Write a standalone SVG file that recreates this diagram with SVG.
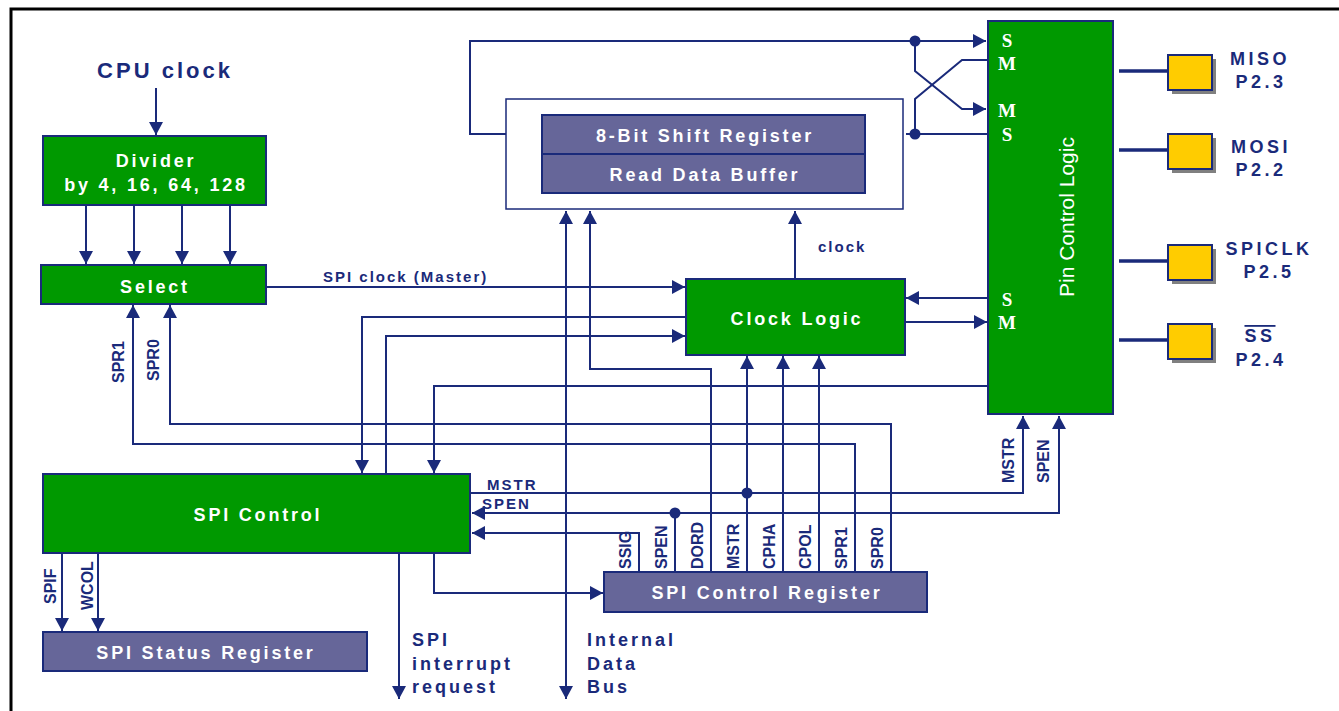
<svg xmlns="http://www.w3.org/2000/svg" width="1339" height="711" viewBox="0 0 1339 711">
<style>
.bg{fill:#ffffff}
.frame{fill:none;stroke:#000;stroke-width:3}
.g{fill:#009900;stroke:#1a2a7a;stroke-width:2}
.p{fill:#666699;stroke:#1a2a7a;stroke-width:2}
.ob{fill:#ffffff;stroke:#1a2a7a;stroke-width:1.5}
.y{fill:#ffcc00;stroke:#1a2a7a;stroke-width:2}
.sh{fill:#808080}
.w{font-family:"Liberation Sans",Arial,sans-serif;font-weight:bold;font-size:18px;fill:#ffffff;letter-spacing:2.8px;text-anchor:middle}
.n{font-family:"Liberation Sans",Arial,sans-serif;font-weight:bold;fill:#1a2a7a}
.lbl{font-size:15px;letter-spacing:2px}
.v{font-size:16px}
.big{font-size:18px;letter-spacing:3px}
.pin{font-size:18px;letter-spacing:3.5px;text-anchor:middle}
.sm{font-family:"Liberation Serif","Times New Roman",serif;font-weight:bold;font-size:19px;fill:#ffffff;text-anchor:middle}
.c{fill:none;stroke:#1a2a7a;stroke-width:2}
.a{marker-end:url(#ah)}
.d{stroke-dasharray:9 6}
.thick{fill:none;stroke:#1a2a7a;stroke-width:3.5}
.dot{fill:#1a2a7a}
</style>
<defs>
<marker id="ah" viewBox="0 0 13 14" refX="13" refY="7" markerWidth="13" markerHeight="14" markerUnits="userSpaceOnUse" orient="auto-start-reverse">
<path d="M0,0 L13,7 L0,14 z" fill="#1a2a7a"/>
</marker>
</defs>
<rect class="bg" x="0" y="0" width="1339" height="711"/>
<rect class="frame" x="11" y="9" width="1400" height="800"/>

<text class="n" x="165" y="78" font-size="22" letter-spacing="3" text-anchor="middle">CPU clock</text>

<g id="connectors">
<path class="c a" d="M156,88 V135"/>
<path class="c a" d="M86,206 V264"/>
<path class="c a" d="M134,206 V264"/>
<path class="c a" d="M182,206 V264"/>
<path class="c a" d="M230,206 V264"/>
<path class="c a" d="M267,287 H685"/>
<path class="c a" d="M855,572 V444 H133 V305"/>
<path class="c a" d="M891,572 V424 H170 V305"/>
<path class="c a" d="M686,317 H362 V473"/>
<path class="c a" d="M386,474 V336 H685"/>
<path class="c a" d="M988,386 H434 V473"/>
<path class="c a" d="M711,572 V369 H590 V211"/>
<path class="c a" d="M566,699 V211" marker-start="url(#ah)"/>
<path class="c a" d="M795,279 V211"/>
<path class="c a" d="M747,572 V356"/>
<path class="c a" d="M783,572 V356"/>
<path class="c a" d="M819,572 V356"/>
<path class="c a" d="M639,572 V533 H472"/>
<path class="c" d="M675,572 V513"/>
<path class="c a" d="M472,513 H1059 V416" marker-start="url(#ah)"/>
<path class="c a" d="M471,493 H1023 V416"/>
<path class="c a" d="M434,553 V593 H603"/>
<path class="c a" d="M62,553 V631"/>
<path class="c a" d="M98,553 V631"/>
<path class="c a" d="M399,553 V699"/>
<path class="c a" d="M987,298 H906"/>
<path class="c a" d="M905,322 H987"/>
<path class="c a d" d="M542,134 H507"/>
<path class="c a" d="M507,134 H470 V41 H986"/>
<path class="c a d" d="M915,134 H866"/>
<path class="c" d="M988,134 H915"/>
<path class="c a" d="M915,41 V71 L962,109 H986"/>
<path class="c" d="M915,134 V99 L962,60 H988"/>
<circle class="dot" cx="915" cy="41" r="5.5"/>
<circle class="dot" cx="915" cy="134" r="5.5"/>
<circle class="dot" cx="747" cy="493" r="5.5"/>
<circle class="dot" cx="675" cy="513" r="5.5"/>
<path class="thick" d="M1119,71 H1168"/>
<path class="thick" d="M1119,150 H1168"/>
<path class="thick" d="M1119,261 H1168"/>
<path class="thick" d="M1119,340 H1168"/>
</g>

<g id="divider">
<rect class="g" x="43" y="136" width="223" height="69"/>
<text class="w" x="156" y="167">Divider</text>
<text class="w" x="156" y="191">by 4, 16, 64, 128</text>
</g>

<g id="select">
<rect class="g" x="41" y="265" width="225" height="39"/>
<text class="w" x="155" y="293">Select</text>
</g>

<text class="n lbl" x="323" y="282">SPI clock (Master)</text>
<text class="n lbl" x="818" y="252">clock</text>

<g id="shift-buffer">
<rect class="ob" x="506" y="99" width="397" height="110"/>
<rect class="p" x="542" y="115" width="323" height="39"/>
<text class="w" x="705" y="142">8-Bit Shift Register</text>
<rect class="p" x="542" y="154" width="323" height="39"/>
<text class="w" x="705" y="181">Read Data Buffer</text>
</g>

<g id="clock-logic">
<rect class="g" x="686" y="279" width="219" height="76"/>
<text class="w" x="797" y="325">Clock Logic</text>
</g>

<g id="pin-control">
<rect class="g" x="988" y="21" width="125" height="393"/>
<text font-family="'Liberation Sans',Arial,sans-serif" font-size="21" fill="#ffffff" text-anchor="middle" transform="translate(1074,217) rotate(-90)">Pin Control Logic</text>
<text class="sm" x="1007" y="47">S</text>
<text class="sm" x="1007" y="70">M</text>
<text class="sm" x="1007" y="117">M</text>
<text class="sm" x="1007" y="141">S</text>
<text class="sm" x="1007" y="306">S</text>
<text class="sm" x="1007" y="329">M</text>
</g>

<g id="pin-miso">
<rect class="sh" x="1172" y="59" width="44" height="35"/>
<rect class="y" x="1168" y="55" width="44" height="35"/>
<text class="n pin" x="1260" y="65">MISO</text>
<text class="n pin" x="1261" y="88">P2.3</text>
</g>
<g id="pin-mosi">
<rect class="sh" x="1172" y="138" width="44" height="35"/>
<rect class="y" x="1168" y="134" width="44" height="35"/>
<text class="n pin" x="1261" y="153">MOSI</text>
<text class="n pin" x="1261" y="176">P2.2</text>
</g>
<g id="pin-spiclk">
<rect class="sh" x="1172" y="249" width="44" height="35"/>
<rect class="y" x="1168" y="245" width="44" height="35"/>
<text class="n pin" x="1269" y="255">SPICLK</text>
<text class="n pin" x="1269" y="278">P2.5</text>
</g>
<g id="pin-ss">
<rect class="sh" x="1172" y="328" width="44" height="35"/>
<rect class="y" x="1168" y="324" width="44" height="35"/>
<text class="n pin" x="1260" y="342" text-decoration="overline">SS</text>
<text class="n pin" x="1261" y="366">P2.4</text>
</g>

<g id="spi-control">
<rect class="g" x="43" y="474" width="427" height="79"/>
<text class="w" x="258" y="521">SPI Control</text>
</g>
<text class="n lbl" x="487" y="490" letter-spacing="3">MSTR</text>
<text class="n lbl" x="482" y="509" letter-spacing="3">SPEN</text>

<g id="spi-status">
<rect class="p" x="43" y="632" width="324" height="39"/>
<text class="w" x="206" y="659">SPI Status Register</text>
</g>

<g id="spi-control-register">
<rect class="p" x="604" y="572" width="323" height="40"/>
<text class="w" x="767" y="599">SPI Control Register</text>
</g>

<g id="bit-labels">
<text class="n v" transform="translate(631,569) rotate(-90)">SSIG</text>
<text class="n v" transform="translate(667,569) rotate(-90)">SPEN</text>
<text class="n v" transform="translate(703,569) rotate(-90)">DORD</text>
<text class="n v" transform="translate(739,569) rotate(-90)">MSTR</text>
<text class="n v" transform="translate(775,569) rotate(-90)">CPHA</text>
<text class="n v" transform="translate(811,569) rotate(-90)">CPOL</text>
<text class="n v" transform="translate(847,569) rotate(-90)">SPR1</text>
<text class="n v" transform="translate(883,569) rotate(-90)">SPR0</text>
<text class="n v" transform="translate(124,383) rotate(-90)">SPR1</text>
<text class="n v" transform="translate(159,381) rotate(-90)">SPR0</text>
<text class="n v" transform="translate(56,604) rotate(-90)">SPIF</text>
<text class="n v" transform="translate(93,610) rotate(-90)">WCOL</text>
<text class="n v" transform="translate(1014,483) rotate(-90)">MSTR</text>
<text class="n v" transform="translate(1049,483) rotate(-90)">SPEN</text>
</g>

<text class="n big" x="412" y="646">SPI</text>
<text class="n big" x="412" y="670">interrupt</text>
<text class="n big" x="412" y="693">request</text>
<text class="n big" x="587" y="646">Internal</text>
<text class="n big" x="587" y="670">Data</text>
<text class="n big" x="587" y="693">Bus</text>
</svg>
